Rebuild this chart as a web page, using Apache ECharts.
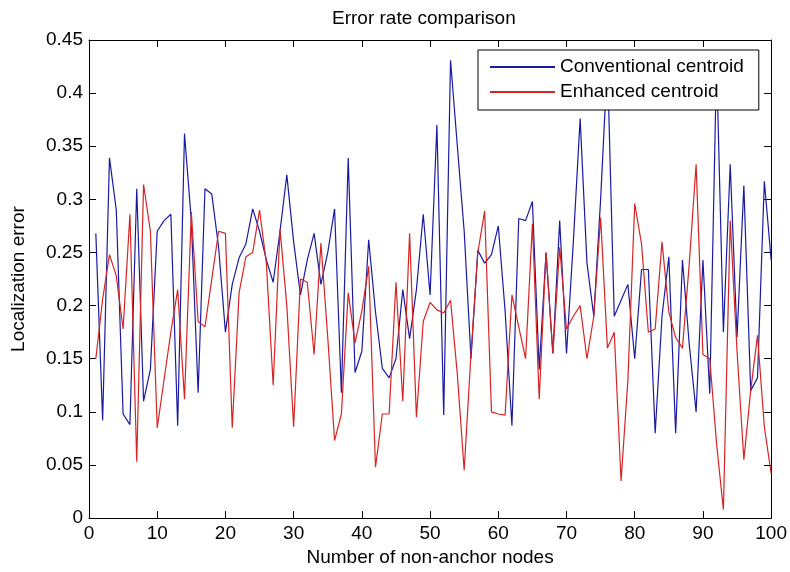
<!DOCTYPE html>
<html>
<head>
<meta charset="utf-8">
<script src="https://cdn.jsdelivr.net/npm/echarts@6/dist/echarts.min.js"></script>
<style>
  html, body { margin: 0; background: #fff; }
  #main { width: 790px; height: 572px; }
</style>
</head>
<body>
<div id="main"></div>
<script>
// localization error per node, nodes 1..100
const conventional = [
  0.268, 0.092, 0.339, 0.29, 0.098, 0.088, 0.31, 0.11, 0.14, 0.27,
  0.28, 0.286, 0.087, 0.362, 0.28, 0.118, 0.31, 0.305, 0.255, 0.175,
  0.22, 0.245, 0.258, 0.291, 0.27, 0.243, 0.222, 0.27, 0.323, 0.26,
  0.21, 0.243, 0.268, 0.22, 0.25, 0.291, 0.118, 0.339, 0.137, 0.157,
  0.262, 0.194, 0.141, 0.132, 0.15, 0.215, 0.169, 0.215, 0.286, 0.21,
  0.37, 0.097, 0.431, 0.35, 0.27, 0.15, 0.252, 0.24, 0.248, 0.275,
  0.195, 0.087, 0.282, 0.28, 0.298, 0.14, 0.25, 0.155, 0.28, 0.155,
  0.26, 0.376, 0.24, 0.19, 0.3, 0.43, 0.19, 0.205, 0.22, 0.15,
  0.234, 0.234, 0.08, 0.19, 0.246, 0.08, 0.243, 0.163, 0.1, 0.243,
  0.117, 0.43, 0.175, 0.333, 0.17, 0.313, 0.12, 0.132, 0.317, 0.243
]
const enhanced = [
  0.15, 0.206, 0.248, 0.228, 0.178, 0.286, 0.053, 0.314, 0.27, 0.085,
  0.13, 0.175, 0.215, 0.112, 0.288, 0.185, 0.18, 0.225, 0.27, 0.268,
  0.085, 0.212, 0.246, 0.25, 0.29, 0.24, 0.125, 0.272, 0.2, 0.086,
  0.225, 0.222, 0.154, 0.259, 0.17, 0.073, 0.098, 0.212, 0.165, 0.195,
  0.237, 0.048, 0.098, 0.098, 0.222, 0.11, 0.268, 0.095, 0.185, 0.203,
  0.196, 0.193, 0.205, 0.135, 0.045, 0.155, 0.25, 0.289, 0.1, 0.098,
  0.097, 0.21, 0.18, 0.15, 0.277, 0.112, 0.25, 0.155, 0.255, 0.178,
  0.19, 0.2, 0.15, 0.19, 0.283, 0.16, 0.175, 0.035, 0.13, 0.296,
  0.258, 0.175, 0.178, 0.26, 0.194, 0.17, 0.16, 0.24, 0.333, 0.154,
  0.15, 0.07, 0.008, 0.28, 0.157, 0.055, 0.12, 0.172, 0.086, 0.042
]
const seriesNames = ['Conventional centroid', 'Enhanced centroid']
const seriesColors = ['#1a1aa0', '#d62424']

const font = 'Liberation Sans, Arial, sans-serif'
const black = '#000'

// pair each value with its node number
const toPoints = arr => arr.map((v, i) => [i + 1, v])

const boxAxis = (extra) => Object.assign({
  type: 'value',
  axisLine: { show: true, onZero: false, lineStyle: { color: black, width: 1 } },
  axisTick: { show: true, inside: true, length: 7, lineStyle: { color: black } },
  splitLine: { show: false }
}, extra)

const chart = echarts.init(document.getElementById('main'))

chart.setOption({
  animation: false,
  backgroundColor: '#fff',
  title: {
    text: 'Error rate comparison',
    left: 332,
    top: 9,
    padding: 0,
    textStyle: { fontSize: 19, fontWeight: 'normal', color: black, fontFamily: font }
  },
  legend: {
    orient: 'vertical',
    left: 478,
    top: 50,
    padding: [7, 15, 8, 12],
    itemGap: 5,
    itemWidth: 65,
    itemHeight: 2,
    icon: 'rect',
    backgroundColor: '#fff',
    borderColor: black,
    borderWidth: 1,
    borderRadius: 0,
    textStyle: { fontSize: 19, lineHeight: 20, color: black, fontFamily: font },
    data: seriesNames
  },
  grid: { left: 89, right: 18, top: 40, bottom: 46 },
  xAxis: [
    boxAxis({
      min: 0, max: 100, interval: 10,
      axisLabel: { color: black, fontSize: 19, margin: 6, fontFamily: font },
      name: 'Number of non-anchor nodes',
      nameLocation: 'middle',
      nameGap: 26,
      nameTextStyle: { color: black, fontSize: 19, fontFamily: font }
    }),
    boxAxis({ position: 'top', min: 0, max: 100, interval: 10, axisLabel: { show: false } })
  ],
  yAxis: [
    boxAxis({
      min: 0, max: 0.45, interval: 0.05,
      axisLabel: { color: black, fontSize: 19, margin: 6, fontFamily: font },
      name: 'Localization error',
      nameLocation: 'middle',
      nameGap: 61,
      nameTextStyle: { color: black, fontSize: 19, fontFamily: font }
    }),
    boxAxis({ position: 'right', min: 0, max: 0.45, interval: 0.05, axisLabel: { show: false } })
  ],
  series: [conventional, enhanced].map((arr, k) => ({
    type: 'line',
    name: seriesNames[k],
    data: toPoints(arr),
    xAxisIndex: 0,
    yAxisIndex: 0,
    symbol: 'none',
    lineStyle: { width: 1.2, color: seriesColors[k] },
    itemStyle: { color: seriesColors[k] }
  }))
})
</script>
</body>
</html>
